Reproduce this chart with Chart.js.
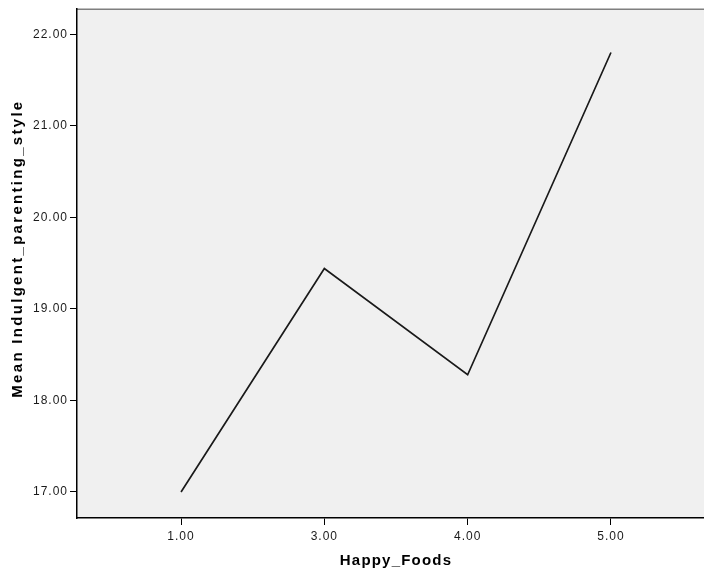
<!DOCTYPE html>
<html>
<head>
<meta charset="utf-8">
<script src="https://cdn.jsdelivr.net/npm/chart.js@4.4.1/dist/chart.umd.min.js"></script>
<style>
  html, body { margin: 0; padding: 0; background: #fff; overflow: hidden; }
  #wrap { width: 720px; height: 574px; }
</style>
</head>
<body>
<div id="wrap"><canvas id="meanChart"></canvas></div>
<script>
// Happy_Foods categories and mean Indulgent_parenting_style
const categories = ['1.00', '3.00', '4.00', '5.00'];
const meanIndulgent = [17.00, 19.44, 18.28, 21.80];
const yTicks = [17, 18, 19, 20, 21, 22];

const FONT = "'Liberation Sans', Arial, sans-serif";

// grey plot background + top frame line, like SPSS
const plotFrame = {
    id: 'plotFrame',
    afterLayout(chart) {
        // wider letter spacing on the axis titles (SPSS look)
        const wrapTitle = (scale, spacing, shiftY) => {
            if (scale._wrapped) return;
            const orig = scale.drawTitle;
            scale.drawTitle = function () {
                const c = this.ctx;
                c.save();
                c.letterSpacing = spacing;
                c.translate(0, shiftY);
                orig.call(this);
                c.restore();
            };
            scale._wrapped = true;
        };
        wrapTitle(chart.scales.x, '1.2px', 0);
        wrapTitle(chart.scales.y, '2.3px', -15);
    },
    beforeDraw(chart) {
        const { ctx, chartArea: a } = chart;
        ctx.letterSpacing = '1px';
        ctx.save();
        ctx.fillStyle = '#f0f0f0';
        ctx.fillRect(a.left, a.top, a.right - a.left, a.bottom - a.top);
        ctx.strokeStyle = '#7f7f7f';
        ctx.lineWidth = 1.5;
        ctx.beginPath();
        ctx.moveTo(a.left, a.top);
        ctx.lineTo(a.right, a.top);
        ctx.stroke();
        ctx.restore();
    }
};

const ctx = document.getElementById('meanChart').getContext('2d');

new Chart(ctx, {
    type: 'line',
    data: {
        datasets: [{
            label: 'Mean Indulgent_parenting_style',
            data: meanIndulgent.map((v, i) => ({ x: i, y: v })),
            borderColor: '#1a1a1a',
            borderWidth: 1.7,
            pointRadius: 0,
            fill: false,
            tension: 0
        }]
    },
    options: {
        responsive: true,
        maintainAspectRatio: false,
        animation: false,
        layout: { padding: { left: 0, top: 9, right: 5, bottom: 0 } },
        plugins: {
            legend: { display: false },
            tooltip: { enabled: false }
        },
        scales: {
            x: {
                type: 'linear',
                min: -0.726,
                max: 3.726,
                afterBuildTicks: s => { s.ticks = categories.map((c, i) => ({ value: i })); },
                afterFit: s => { s.height = 56; },
                ticks: {
                    callback: v => categories[v],
                    color: '#1a1a1a',
                    font: { family: FONT, size: 12 },
                    padding: 4,
                    maxRotation: 0
                },
                grid: { drawOnChartArea: false, color: '#000', tickLength: 7 },
                border: { color: '#000', width: 1.5 },
                title: {
                    display: true,
                    text: 'Happy_Foods',
                    color: '#000',
                    font: { family: FONT, size: 15, weight: 'bold' },
                    padding: { top: 0, bottom: 4 }
                }
            },
            y: {
                min: 16.716,
                max: 22.273,
                afterBuildTicks: s => { s.ticks = yTicks.map(v => ({ value: v })); },
                afterFit: s => { s.width = 77; },
                ticks: {
                    callback: v => v.toFixed(2),
                    color: '#1a1a1a',
                    font: { family: FONT, size: 12 },
                    padding: 2
                },
                grid: { drawOnChartArea: false, color: '#000', tickLength: 7 },
                border: { color: '#000', width: 1.5 },
                title: {
                    display: true,
                    text: 'Mean Indulgent_parenting_style',
                    color: '#000',
                    font: { family: FONT, size: 15, weight: 'bold' },
                    padding: { top: 9, bottom: 0 }
                }
            }
        }
    },
    plugins: [plotFrame]
});
</script>
</body>
</html>
